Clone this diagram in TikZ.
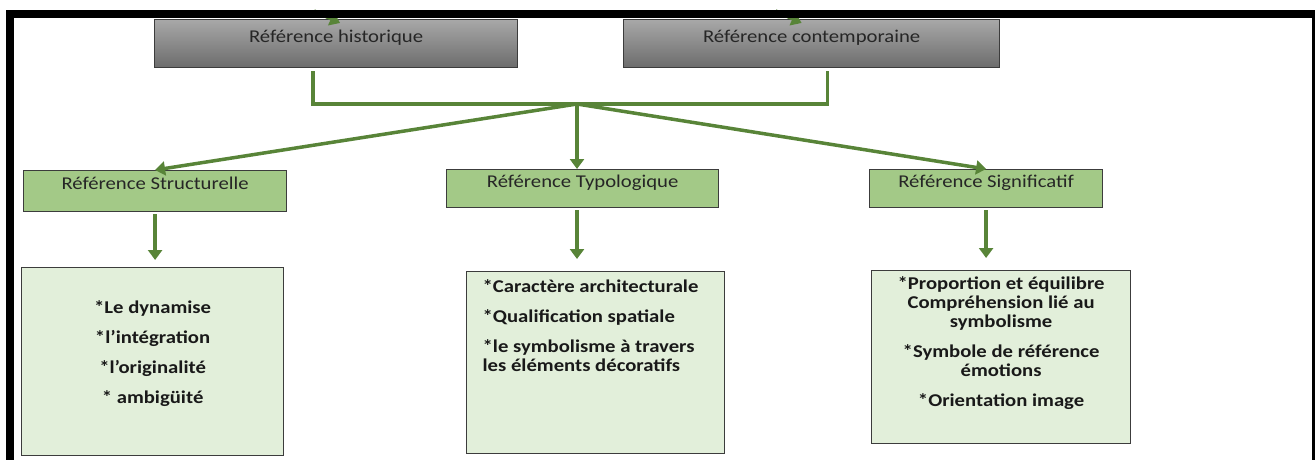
\documentclass[tikz,border=0pt]{standalone}
\usepackage{fontspec}
\setmainfont{Carlito}[FakeStretch=1.15]
\usetikzlibrary{arrows.meta}

\definecolor{linkgreen}{RGB}{88,132,56}
\definecolor{labgreen}{RGB}{163,201,135}
\definecolor{palegreen}{RGB}{226,239,218}
\definecolor{edgegray}{RGB}{60,60,60}
\definecolor{greytop}{RGB}{168,168,168}
\definecolor{greybot}{RGB}{108,108,108}

\tikzset{
  link/.style={draw=linkgreen,line width=3.5pt},
  tipped/.style={-{Triangle[width=14pt,length=10pt]}},
  headbox/.style={draw=edgegray,line width=1.2pt,top color=greytop,bottom color=greybot,
    anchor=north west,inner sep=0pt,text height=23pt,text depth=25pt,
    text=black!85,font=\fontsize{18}{19}\selectfont},
  refbox/.style={draw=edgegray,line width=1.2pt,fill=labgreen,anchor=north west,
    inner sep=0pt,text height=18pt,text depth=20pt,
    text=black!85,font=\fontsize{18}{19}\selectfont},
  listbox/.style={draw=edgegray,line width=1.2pt,fill=palegreen,anchor=north west,
    inner sep=0pt,text=black!90,font=\fontsize{18}{19}\selectfont\bfseries},
}

\begin{document}
\begin{tikzpicture}[x=1pt,y=-1pt]
  \def\listtext#1#2#3#4{\parbox[t][#2pt][t]{#1pt}{\vspace*{#3pt}#4}}

  \useasboundingbox (0,0) rectangle (1315,459);
  \clip (0,0) rectangle (1315,459);

  % top row
  \node[headbox,minimum width=363pt] (hist) at (154,19) {Référence historique};
  \node[headbox,minimum width=376pt] (cont) at (623,19) {Référence contemporaine};

  % second row
  \node[refbox,minimum width=263pt,text height=19pt,text depth=22pt] (ss) at (23,170)
    {Référence Structurelle};
  \node[refbox,minimum width=272pt] (ts) at (446,169) {Référence Typologique};
  \node[refbox,minimum width=233pt] (gs) at (869,169) {Référence Significatif};

  % lists
  \node[listbox] (sb) at (21,267) {\listtext{262}{188}{33}{\centering
    *Le dynamise\\[11pt]
    *l’intégration\\[11pt]
    *l’originalité\\[11pt]
    * ambigüité}};
  \node[listbox] (tb) at (466,271) {\listtext{258}{182}{8}{\raggedright\leftskip=16pt
    *Caractère architecturale\\[11pt]
    *Qualification spatiale\\[11pt]
    *le symbolisme à travers\\
    les éléments décoratifs}};
  \node[listbox] (gb) at (871,270) {\listtext{259}{173}{6}{\centering
    *Proportion et équilibre\\
    Compréhension lié au\\
    symbolisme\\[11pt]
    *Symbole de référence\\
    émotions\\[11pt]
    *Orientation image}};

  % connectors
  \coordinate (hub) at (577,104);
  \coordinate (hl) at ([shift={(-23,3)}]hist.south);
  \coordinate (cr) at ([shift={(16,3)}]cont.south);
  \draw[link] (hl) -- (hl |- hub) -- (cr |- hub) -- (cr);

  \draw[link,tipped] (hub) -- (ss.north);
  \draw[link,tipped] (hub) -- (hub |- ts.north);
  \draw[link,tipped] (hub) -- (gs.north);

  \draw[link,tipped,shorten <=2pt,shorten >=7pt] (ss.south) -- (ss.south |- sb.north);
  \draw[link,tipped,shorten <=2pt,shorten >=12pt] (ts.south -| hub) -- (tb.north -| hub);
  \draw[link,tipped,shorten <=2pt,shorten >=12pt] (gs.south) -- (gs.south |- gb.north);

  % arrows coming in from above
  \draw[link,tipped] ([shift={(-22,-8)}]hist.north) -- ([shift={(4,4)}]hist.north);
  \draw[link,tipped] ([shift={(-36,-8)}]cont.north) -- ([shift={(-10,4)}]cont.north);

  % frame
  \draw[line width=8pt] (10,470) -- (10,14) -- (1316,14) -- (1316,470);
\end{tikzpicture}
\end{document}
